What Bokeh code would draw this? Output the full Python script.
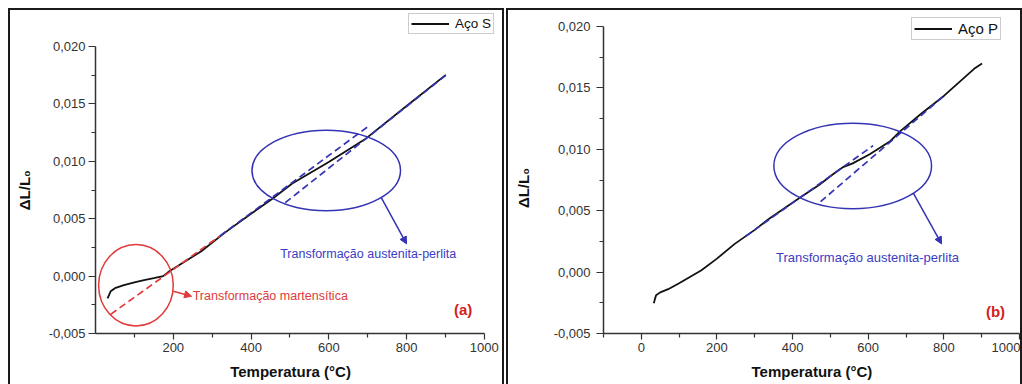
from bokeh.plotting import figure
from bokeh.layouts import row, column
from bokeh.models import (Range1d, FixedTicker, CustomJSTickFormatter, Legend,
                          LegendItem, Arrow, NormalHead, ColumnDataSource, Spacer)
from bokeh.core.properties import value
from bokeh.embed import file_html
from bokeh.resources import INLINE

FONT = "Liberation Sans"
NB = "\u00a0"

# ---------------- data: panel (a) Aço S ----------------
temp_s = [31, 39, 50, 73, 100, 125, 150, 174, 187, 230, 273, 332, 400, 455, 506, 600, 696, 800, 901]
dl_s = [-0.00193, -0.00132, -0.00105, -0.00079, -0.00055, -0.00035, -0.00018, 0.0, 0.00035,
        0.00127, 0.00219, 0.00377, 0.00543, 0.00675, 0.00807, 0.00995, 0.0120, 0.01482, 0.01754]
# extrapolation lines (a)
red_dash_t = [39, 320]
red_dash_v = [-0.00333, 0.0035]
blue_up_t_a = [320, 706]
blue_up_v_a = [0.0035, 0.01316]
blue_lo_t_a = [488, 901]
blue_lo_v_a = [0.0064, 0.0175]

# ---------------- data: panel (b) Aço P ----------------
temp_p = [33, 36, 39, 50, 71, 100, 159, 200, 247, 300, 338, 420, 470, 506, 532, 559, 604, 658,
          685, 740, 800, 880, 901]
dl_p = [-0.00254, -0.0022, -0.00189, -0.00165, -0.00139, -0.0009, 0.00016, 0.0011, 0.0023,
        0.00344, 0.00435, 0.00607, 0.0071, 0.00795, 0.00853, 0.00886, 0.0096, 0.01066, 0.01148,
        0.0129, 0.01435, 0.01656, 0.0170]
blue_up_t_b = [275, 613]
blue_up_v_b = [0.0029, 0.0103]
blue_lo_t_b = [474, 800]
blue_lo_v_b = [0.00574, 0.01435]

# annotations (ellipses, arrows, texts)
ell_a_x = [104, 593.5]
ell_a_y = [-0.00079, 0.00921]
ell_a_w = [192, 382]
ell_a_h = [0.0071, 0.00702]
ell_a_col = ["#e03a3a", "#3434b4"]

ell_b_x = [559]
ell_b_y = [0.00865]
ell_b_w = [417]
ell_b_h = [0.00697]

arrow_a_red = (200, -0.00132, 247, -0.00175)
arrow_a_blue = (735, 0.00684, 800, 0.00281)
arrow_b_blue = (720, 0.0064, 794, 0.0023)

txt_a_red = ("Transformação martensítica", 250, -0.00175)
txt_a_blue = ("Transformação austenita-perlita", 475, 0.00193)
txt_b_blue = ("Transformação austenita-perlita", 356, 0.00123)
tag_a = ("(a)", 969, -0.00292)
tag_b = ("(b)", 962, -0.0032)

y_major = [-0.005, 0.0, 0.005, 0.010, 0.015, 0.020]
y_minor = [-0.0025, 0.0025, 0.0075, 0.0125, 0.0175]
x_major_a = [200, 400, 600, 800, 1000]
x_minor_a = [100, 300, 500, 700, 900]
x_major_b = [0, 200, 400, 600, 800, 1000]
x_minor_b = [-100, 100, 300, 500, 700, 900]

RED = "#e03a3a"
BLUE = "#3434b4"
BLUE_TXT = "#3c3cc4"
AX = "#333333"


def base_fig(w, h, mbl, mbr, mbt, mbb, xr, yr, xb, xmaj, xmin,
             ylab_standoff, ytick_standoff, xlabel, ylabel):
    p = figure(width=w, height=h, output_backend="svg", toolbar_location=None,
               x_range=Range1d(*xr), y_range=Range1d(*yr),
               min_border_left=mbl, min_border_right=mbr,
               min_border_top=mbt, min_border_bottom=mbb)
    p.grid.visible = False
    p.outline_line_color = None
    p.background_fill_color = "white"
    p.border_fill_color = "white"
    p.xaxis.ticker = FixedTicker(ticks=xmaj, minor_ticks=xmin)
    p.yaxis.ticker = FixedTicker(ticks=y_major, minor_ticks=y_minor)
    p.yaxis.formatter = CustomJSTickFormatter(code="return tick.toFixed(3).replace('.', ',');")
    p.xaxis.bounds = xb
    p.yaxis.bounds = (-0.005, 0.020)
    for ax in (p.xaxis[0], p.yaxis[0]):
        ax.axis_line_color = AX
        ax.axis_line_width = 1.5
        ax.major_tick_line_color = AX
        ax.minor_tick_line_color = AX
        ax.major_tick_line_width = 1.2
        ax.minor_tick_line_width = 1.2
        ax.major_tick_in = 0
        ax.minor_tick_in = 0
        ax.major_label_text_font = FONT
        ax.major_label_text_font_size = "13px"
        ax.major_label_text_color = AX
        ax.axis_label_text_font = FONT
        ax.axis_label_text_font_style = "bold"
        ax.axis_label_text_font_size = "15px"
        ax.axis_label_text_color = "#111111"
    p.xaxis.major_tick_out = 6
    p.xaxis.minor_tick_out = 4
    p.yaxis.major_tick_out = 7
    p.yaxis.minor_tick_out = 4
    p.xaxis.major_label_standoff = 3
    p.yaxis.major_label_standoff = ytick_standoff
    p.xaxis.axis_label = xlabel
    p.yaxis.axis_label = ylabel
    p.xaxis.axis_label_standoff = 8
    p.yaxis.axis_label_standoff = ylab_standoff
    p.styles = {"border-top": "2px solid #1a1a1a", "border-left": "2px solid #1a1a1a",
                "border-right": "2px solid #1a1a1a"}
    return p


def add_text(p, t, color, size, bold=False, align="left"):
    src = ColumnDataSource(dict(x=[t[1]], y=[t[2]], text=[t[0]]))
    p.text(x="x", y="y", text="text", source=src, text_font=value(FONT),
           text_font_size=value(size), text_color=color, text_baseline="middle",
           text_align=align, text_font_style="bold" if bold else "normal")


def add_arrow(p, a, color):
    p.add_layout(Arrow(x_start=a[0], y_start=a[1], x_end=a[2], y_end=a[3],
                       line_color=color, line_width=1.5,
                       end=NormalHead(size=7, fill_color=color, line_color=color)))


def make_legend(label, r, loc, font_size, glyph_w):
    return Legend(items=[LegendItem(label=label, renderers=[r])], location=loc,
                  padding=2, spacing=0, margin=0, glyph_width=glyph_w, glyph_height=13,
                  label_height=13, label_standoff=6, label_text_font=FONT,
                  label_text_font_size=font_size, label_text_color="#111111",
                  border_line_color="#9a9a9a", border_line_width=1,
                  background_fill_color="white", background_fill_alpha=1.0)


# ---------------- panel (a) ----------------
p1 = base_fig(496, 376, 85, 0, 3, 52, (0, 1057.1), (-0.005, 0.022885), (0, 1000),
              x_major_a, x_minor_a, 13, 3,
              "Temperatura (°C)" + NB * 5, "ΔL/L₀" + NB * 8)
r1 = p1.line(temp_s, dl_s, line_color="#111111", line_width=1.8)
p1.line(red_dash_t, red_dash_v, line_color=RED, line_width=1.7, line_dash="7 4")
p1.line(blue_up_t_a, blue_up_v_a, line_color=BLUE, line_width=1.7, line_dash="7 4")
p1.line(blue_lo_t_a, blue_lo_v_a, line_color=BLUE, line_width=1.7, line_dash="7 4")
p1.ellipse(x=ell_a_x, y=ell_a_y, width=ell_a_w, height=ell_a_h, fill_color=None,
           line_color=ell_a_col, line_width=1.5)
add_arrow(p1, arrow_a_red, RED)
add_arrow(p1, arrow_a_blue, BLUE)
add_text(p1, txt_a_red, RED, "12.5px")
add_text(p1, txt_a_blue, BLUE_TXT, "12.5px")
add_text(p1, tag_a, "#d42020", "15px", bold=True, align="right")
p1.add_layout(make_legend("Aço S", r1, (313, 299), "13.5px", 38))

# ---------------- panel (b) ----------------
p2 = base_fig(516, 376, 95, 0, 3, 53, (-100, 1013.3), (-0.005, 0.021066), (-100, 1000),
              x_major_b, x_minor_b, 19, 6,
              "Temperatura (°C)" + NB, "ΔL/L₀" + NB * 7)
r2 = p2.line(temp_p, dl_p, line_color="#111111", line_width=1.8)
p2.line(blue_up_t_b, blue_up_v_b, line_color=BLUE, line_width=1.7, line_dash="7 4")
p2.line(blue_lo_t_b, blue_lo_v_b, line_color=BLUE, line_width=1.7, line_dash="7 4")
p2.ellipse(x=ell_b_x, y=ell_b_y, width=ell_b_w, height=ell_b_h, fill_color=None,
           line_color=BLUE, line_width=1.5)
add_arrow(p2, arrow_b_blue, BLUE)
add_text(p2, txt_b_blue, BLUE_TXT, "13px")
add_text(p2, tag_b, "#d42020", "15px", bold=True, align="right")
p2.add_layout(make_legend("Aço P", r2, (308, 293), "15px", 38))

layout = column(Spacer(height=8),
                row(Spacer(width=6), p1, p2, spacing=2),
                spacing=0)
open("out.html", "w").write(file_html(layout, INLINE))
